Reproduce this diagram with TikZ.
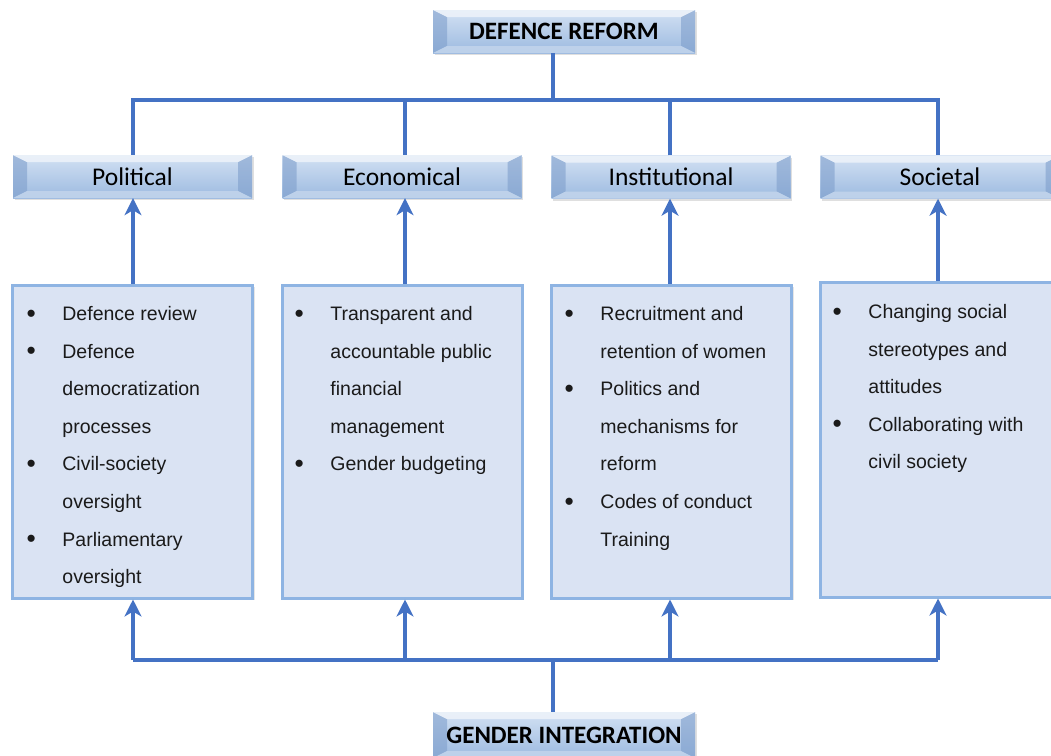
\documentclass[tikz,border=0pt]{standalone}
\usepackage{fontspec}
\setmainfont{Liberation Sans}
\newfontfamily\calib{Carlito}
\usetikzlibrary{arrows.meta,shadows}
\definecolor{linec}{HTML}{4472C4}
\definecolor{bvt}{HTML}{D3E1F3}
\definecolor{bvb}{HTML}{9CBAE0}
\definecolor{bvside}{HTML}{7F9FCC}
\definecolor{bvtop}{HTML}{EEF3FA}
\definecolor{bvbot}{HTML}{C3D5EC}
\definecolor{itemfill}{HTML}{DAE3F3}
\definecolor{itemdraw}{HTML}{8EB4E3}
\definecolor{txt}{HTML}{1A1A1A}
\begin{document}
\begin{tikzpicture}[x=1pt,y=-1pt,
  bevelbox/.style={rectangle, inner sep=0pt, top color=bvt, bottom color=bvb,
    drop shadow={opacity=0.25,shadow xshift=1.5pt,shadow yshift=-2pt},
    font=\calib\fontsize{25.5}{28}\selectfont, text=black,
    path picture={
      \fill[bvside,opacity=0.6] (path picture bounding box.north west) -- ([shift={(14pt,-7pt)}]path picture bounding box.north west) -- ([shift={(14pt,7pt)}]path picture bounding box.south west) -- (path picture bounding box.south west) -- cycle;
      \fill[bvside,opacity=0.6] (path picture bounding box.north east) -- ([shift={(-14pt,-7pt)}]path picture bounding box.north east) -- ([shift={(-14pt,7pt)}]path picture bounding box.south east) -- (path picture bounding box.south east) -- cycle;
      \fill[bvtop,opacity=0.85] (path picture bounding box.north west) -- (path picture bounding box.north east) -- ([shift={(-14pt,-7pt)}]path picture bounding box.north east) -- ([shift={(14pt,-7pt)}]path picture bounding box.north west) -- cycle;
      \fill[bvbot,opacity=0.85] (path picture bounding box.south west) -- (path picture bounding box.south east) -- ([shift={(-14pt,7pt)}]path picture bounding box.south east) -- ([shift={(14pt,7pt)}]path picture bounding box.south west) -- cycle;
    }},
  headbox/.style={bevelbox, font=\calib\bfseries\fontsize{25}{28}\selectfont},
  catbox/.style={bevelbox, minimum width=239pt, minimum height=43pt},
  itembox/.style={rectangle, fill=itemfill, draw=itemdraw, line width=3pt,
    minimum width=240pt, minimum height=313pt,
    drop shadow={opacity=0.2,shadow xshift=2pt,shadow yshift=-2pt}},
  itemtext/.style={anchor=north west, inner sep=0pt, text=txt,
    font=\fontsize{19.5}{37.6}\selectfont},
  conn/.style={draw=linec, line width=4pt},
  arr/.style={conn, -{Stealth[length=17pt,width=17pt,inset=5pt]}}
]
\useasboundingbox (0,0) rectangle (1051,755);

% header and footer
\node[headbox, minimum width=262pt, minimum height=43pt] (dr) at (564,31.5) {DEFENCE REFORM};
\node[headbox, minimum width=262pt, minimum height=46pt] (gi) at (564,735) {GENDER INTEGRATION};

% category boxes
\node[catbox] (p1) at (132.5,176.5) {Political};
\node[catbox] (e1) at (402,176.5) {Economical};
\node[catbox] (i1) at (671,177) {Institutional};
\node[catbox] (s1) at (940,177) {Societal};

% item boxes
\node[itembox] (p2) at (132.5,441.5) {};
\node[itembox] (e2) at (402,441.5) {};
\node[itembox] (i2) at (671.5,441.5) {};
\node[itembox, minimum height=315pt] (s2) at (940,439.5) {};

% item texts
\newcommand\bl{\raisebox{-1.6pt}{\scalebox{1.35}{\textbullet}}}
\node[itemtext] (pt) at (26.5,294) {\begin{tabular}{@{}l@{\hspace{26.5pt}}l@{}}
\bl & Defence review\\
\bl & Defence\\
 & democratization\\
 & processes\\
\bl & Civil-society\\
 & oversight\\
\bl & Parliamentary\\
 & oversight
\end{tabular}};
\node[itemtext] (et) at (294.5,294) {\begin{tabular}{@{}l@{\hspace{26.5pt}}l@{}}
\bl & Transparent and\\
 & accountable public\\
 & financial\\
 & management\\
\bl & Gender budgeting
\end{tabular}};
\node[itemtext] (it) at (564.5,294) {\begin{tabular}{@{}l@{\hspace{26.5pt}}l@{}}
\bl & Recruitment and\\
 & retention of women\\
\bl & Politics and\\
 & mechanisms for\\
 & reform\\
\bl & Codes of conduct\\
 & Training
\end{tabular}};
\node[itemtext] (st) at (832.5,292) {\begin{tabular}{@{}l@{\hspace{26.5pt}}l@{}}
\bl & Changing social\\
 & stereotypes and\\
 & attitudes\\
\bl & Collaborating with\\
 & civil society
\end{tabular}};

% top tree
\coordinate (tbar) at (0,100);
\draw[conn] ([xshift=-11pt]dr.south) -- ([xshift=-11pt]dr.south |- tbar);
\draw[conn] ([xshift=0.5pt]p1.north) |- ([xshift=-2pt]s1.north |- tbar) -- ([xshift=-2pt]s1.north);
\draw[conn] ([xshift=3pt]e1.north) -- ([xshift=3pt]e1.north |- tbar);
\draw[conn] ([xshift=-1pt]i1.north) -- ([xshift=-1pt]i1.north |- tbar);

% upward arrows from item boxes to categories
\draw[arr] ([xshift=0.5pt]p2.north) -- ([xshift=0.5pt]p1.south);
\draw[arr] ([xshift=3pt]e2.north) -- ([xshift=3pt]e1.south);
\draw[arr] ([xshift=-1.5pt]i2.north) -- ([xshift=-1pt]i1.south);
\draw[arr] ([xshift=-2pt]s2.north) -- ([xshift=-2pt]s1.south);

% bottom tree
\coordinate (bbar) at (0,660);
\draw[conn] ([xshift=-11pt]gi.north) -- ([xshift=-11pt]gi.north |- bbar);
\draw[conn] ([xshift=0.5pt]p2.south |- bbar) -- ([xshift=-2pt]s2.south |- bbar);
\draw[arr] ([xshift=0.5pt]p2.south |- bbar) -- ([xshift=0.5pt]p2.south);
\draw[arr] ([xshift=3pt]e2.south |- bbar) -- ([xshift=3pt]e2.south);
\draw[arr] ([xshift=-1.5pt]i2.south |- bbar) -- ([xshift=-1.5pt]i2.south);
\draw[arr] ([xshift=-2pt]s2.south |- bbar) -- ([xshift=-2pt]s2.south);
\end{tikzpicture}
\end{document}
